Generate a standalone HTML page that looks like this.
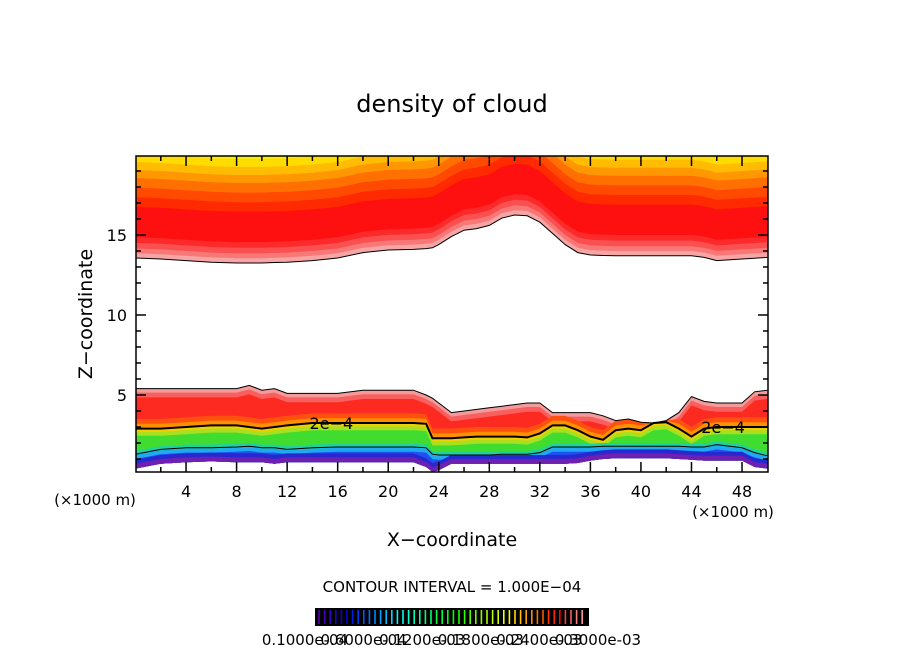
<!DOCTYPE html>
<html><head><meta charset="utf-8"><style>
body{margin:0;background:#fff;}
svg{display:block;font-family:"DejaVu Sans","Liberation Sans",sans-serif;}
</style></head><body>
<svg id="chart" width="904" height="654" viewBox="0 0 904 654">
<defs><clipPath id="pc"><rect x="136" y="156" width="632" height="316"/></clipPath></defs>
<text x="452" y="112" font-size="24" text-anchor="middle">density of cloud</text>
<g id="plot" clip-path="url(#pc)"></g>
<g id="lines" clip-path="url(#pc)"></g>
<rect x="136" y="156" width="632" height="316" fill="none" stroke="#000" stroke-width="1.5"/>
<g id="axes"></g>
<text x="452" y="546" font-size="19" text-anchor="middle">X−coordinate</text>
<text transform="translate(92,314) rotate(-90)" font-size="19" text-anchor="middle">Z−coordinate</text>
<text x="95" y="505" font-size="15" text-anchor="middle">(×1000 m)</text>
<text x="733" y="517" font-size="15" text-anchor="middle">(×1000 m)</text>
<text x="452" y="592" font-size="15" text-anchor="middle">CONTOUR INTERVAL = 1.000E−04</text>
<g id="cbar"></g>
<g id="cbl"></g>
</svg>
<script>
const xs   = [0,2,4,6,8,9,10,11,12,14,16,18,20,22,23,23.5,24,25,26,27,28,29,30,31,32,33,34,35,36,37,38,39,40,41,42,43,44,45,46,48,49,50];
const upper= [13.56,13.5,13.4,13.3,13.25,13.25,13.25,13.28,13.3,13.4,13.56,13.9,14.06,14.1,14.15,14.2,14.4,14.9,15.3,15.4,15.6,16.06,16.25,16.2,15.8,15.1,14.4,13.9,13.75,13.72,13.7,13.7,13.7,13.7,13.7,13.7,13.7,13.6,13.4,13.5,13.55,13.6];
const lowTop=[5.4,5.4,5.4,5.4,5.4,5.6,5.3,5.4,5.1,5.1,5.1,5.3,5.3,5.3,5.0,4.8,4.5,3.9,4.0,4.1,4.2,4.3,4.4,4.5,4.5,3.9,3.9,3.9,3.9,3.7,3.4,3.5,3.3,3.25,3.4,3.9,4.9,4.6,4.5,4.5,5.2,5.3];
const line2e4=[2.9,2.9,3.0,3.1,3.1,3.0,2.9,3.0,3.1,3.25,3.25,3.25,3.25,3.25,3.2,2.3,2.3,2.3,2.35,2.4,2.4,2.4,2.4,2.35,2.6,3.1,3.1,2.8,2.4,2.2,2.8,2.9,2.8,3.25,3.3,2.9,2.4,2.9,3.0,3.0,3.0,3.0];
const lowLine=[1.3,1.6,1.7,1.7,1.75,1.8,1.7,1.7,1.6,1.7,1.75,1.75,1.75,1.75,1.7,1.3,1.25,1.25,1.25,1.25,1.25,1.3,1.3,1.3,1.4,1.75,1.75,1.75,1.75,1.8,1.8,1.8,1.8,1.8,1.8,1.8,1.75,1.75,1.9,1.7,1.4,1.2];
const base = [0.4,0.7,0.8,0.85,0.8,0.8,0.8,0.7,0.8,0.8,0.8,0.8,0.8,0.8,0.5,0.2,0.3,0.7,0.7,0.7,0.7,0.7,0.7,0.7,0.7,0.7,0.7,0.75,0.9,1.0,1.05,1.05,1.05,1.05,1.05,1.0,0.95,0.9,0.9,0.9,0.5,0.4];
const xTicks=[4,8,12,16,20,24,28,32,36,40,44,48];
const yTicks=[5,10,15];
const cbLabels=["0.1000e-04","0.6000e-04","0.1200e-03","0.1800e-03","0.2400e-03","0.3000e-03"];
const NS="http://www.w3.org/2000/svg";
const X=v=>135.5+v*12.636, Y=v=>475-v*16;
const plot=document.getElementById('plot'), lines=document.getElementById('lines'), axes=document.getElementById('axes');
function mk(t,a,p){const e=document.createElementNS(NS,t);for(const k in a)e.setAttribute(k,a[k]);p.appendChild(e);return e;}
function band(lo,hi,fill,name){
  let pts=[];xs.forEach((x,i)=>pts.push(X(x)+','+Y(Math.min(lo[i],hi[i]))));
  for(let i=xs.length-1;i>=0;i--)pts.push(X(xs[i])+','+Y(hi[i]));
  const p=mk('polygon',{points:pts.join(' '),fill:fill},plot);
  
  
}
const top20=xs.map(()=>20.5);
[[0,'#f6a4a4'],[0.3,'#f87878'],[0.6,'#fa5050'],[0.95,'#fc2a2a'],[1.3,'#ff1010'],[3.2,'#ff2a00'],[3.8,'#ff4a00'],[4.4,'#ff7000'],[5.0,'#ff9800'],[5.5,'#ffbc00'],[6.0,'#ffdc00'],[6.5,'#f8f000']].forEach((l,k)=>{
  band(upper.map(b=>b+l[0]),top20,l[1],'upper-cloud-band-'+k);
});
const lowLayers=[
 [i=>lowTop[i],'#f49a9a'],[i=>lowTop[i]-0.25,'#f86060'],[i=>lowTop[i]-0.55,'#fc2a20'],
 [i=>line2e4[i]+0.6,'#ff5010'],[i=>line2e4[i]+0.3,'#ff9000'],[i=>line2e4[i]+0.05,'#f0d000'],
 [i=>line2e4[i]-0.2,'#a8e020'],[i=>line2e4[i]-0.45,'#40dc30'],[i=>lowLine[i]+0.2,'#20d0a0'],
 [i=>lowLine[i]-0.05,'#20a8f0'],[i=>lowLine[i]-0.3,'#2050f0'],[i=>base[i]+0.55,'#2828d0'],[i=>base[i]+0.3,'#7020b0']];
lowLayers.forEach((l,k)=>{
  band(base, xs.map((x,i)=>Math.max(base[i],Math.min(lowTop[i],l[0](i)))), l[1], 'lower-cloud-band-'+k);
});
function cline(arr,w,name){
  const d=xs.map((x,i)=>(i?'L':'M')+X(x)+' '+Y(arr[i])).join(' ');
  const p=mk('path',{d:d,fill:'none',stroke:'#000','stroke-width':w},lines);
  
  
}
cline(upper,1,'upper-cloud-contour');
cline(lowTop,1,'lower-cloud-top-contour');
cline(line2e4,2,'contour-2e-4');
cline(lowLine,1,'lower-cloud-low-contour');
[[15.5],[46.5]].forEach((c,k)=>{
  const i=xs.findIndex(x=>x>=c[0]);
  const t=mk('text',{x:X(c[0]),y:Y(line2e4[i])+6,'font-size':16,'text-anchor':'middle'},lines);
  t.textContent='2e−4';
  
  
});
for(let v=2;v<50;v+=2){
  const L=(v%4===0)?10:5;
  const t1=mk('line',{x1:X(v),x2:X(v),y1:472,y2:472-L,stroke:'#000','stroke-width':1.5},axes);
  
  
  const t2=mk('line',{x1:X(v),x2:X(v),y1:156,y2:156+L,stroke:'#000','stroke-width':1.5},axes);
  
  
}
for(let v=1;v<20;v++){
  const L=(v%5===0)?10:5;
  const t1=mk('line',{x1:136,x2:136+L,y1:Y(v),y2:Y(v),stroke:'#000','stroke-width':1.5},axes);
  
  
  const t2=mk('line',{x1:768,x2:768-L,y1:Y(v),y2:Y(v),stroke:'#000','stroke-width':1.5},axes);
  
  
}
xTicks.forEach(v=>{const t=mk('text',{x:X(v),y:497,'font-size':16,'text-anchor':'middle'},axes);t.textContent=v;
  
  });
yTicks.forEach(v=>{const t=mk('text',{x:127,y:Y(v)+6,'font-size':16,'text-anchor':'end'},axes);t.textContent=v;
  
  });
const cb=document.getElementById('cbar');
const r=mk('rect',{x:315,y:608,width:274,height:18,fill:'#000'},cb);


const n=48;
for(let k=0;k<n;k++){
  const f=k/(n-1);
  let col;
  if(f>0.92) col='hsl(0,85%,'+(55+(f-0.92)*300)+'%)';
  else col='hsl('+(270-f/0.92*270)+',100%,'+(f<0.15?35+f*80:50)+'%)';
  const l=mk('line',{x1:319+k*5.6,x2:319+k*5.6,y1:610,y2:624,stroke:col,'stroke-width':1.6},cb);
  
  
}
cbLabels.forEach((s,k)=>{const t=mk('text',{x:305+k*58.6,y:645,'font-size':15,'text-anchor':'middle'},document.getElementById('cbl'));t.textContent=s;
  
  });
</script>
</body></html>
